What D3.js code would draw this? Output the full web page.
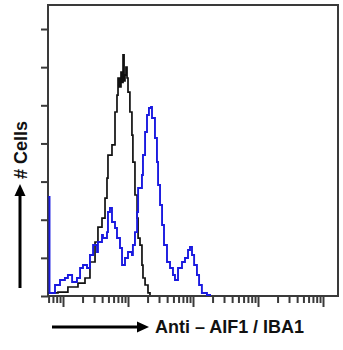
<!DOCTYPE html>
<html>
<head>
<meta charset="utf-8">
<script src="https://cdn.jsdelivr.net/npm/d3@7"></script>
<style>
  html, body { margin: 0; padding: 0; background: #fff; }
  svg { display: block; }
  text { font-family: "Liberation Sans", Arial, sans-serif; font-weight: bold; fill: #111; }
</style>
</head>
<body>
<svg id="chart" width="343" height="350"></svg>
<script>
// Fluorescence intensity (log axis) and cell counts
const isotypeX = [0.594, 0.838, 1.19, 1.70, 2.18, 2.60, 3.11, 3.45, 3.98, 4.43, 4.75, 4.92, 5.67, 6.31, 6.77, 7.02, 7.40, 7.80, 8.10, 8.38, 8.70, 8.99, 9.30, 9.66, 10.0, 10.7, 11.5, 11.9, 12.8, 13.8, 14.3, 15.3, 16.4, 17.0, 18.3, 20.3, 21.8];
const isotypeY = [2.0, 2.6, 5.9, 8.5, 11.8, 22.3, 35.4, 45.2, 51.1, 64.2, 77.3, 92.4, 99.0, 120.6, 131.7, 142.9, 137.0, 146.8, 140.0, 158.0, 141.0, 144.8, 150.0, 142.9, 133.7, 120.6, 105.5, 87.8, 66.2, 51.1, 38.0, 33.4, 20.3, 11.8, 7.2, 2.0, 0.7];

const aifX = [0.594, 0.62, 0.753, 0.899, 1.07, 1.19, 1.38, 1.64, 1.83, 2.03, 2.34, 2.60, 2.90, 3.34, 3.45, 3.98, 4.12, 4.75, 4.92, 5.28, 5.67, 6.31, 6.77, 7.53, 8.09, 8.99, 10.0, 11.5, 11.9, 12.8, 13.8, 14.3, 16.4, 17.0, 18.3, 19.6, 21.0, 22.6, 23.4, 26.0, 27.9, 29.0, 31.1, 33.4, 35.8, 39.8, 44.3, 49.2, 52.8, 58.8, 67.7, 75.3, 83.8, 89.9, 96.5, 104, 115, 124, 137, 164, 183];
const aifY = [64.9, 2.0, 7.2, 10.5, 11.8, 13.8, 9.2, 11.8, 18.4, 20.3, 18.4, 26.9, 33.4, 28.8, 35.4, 40.0, 38.0, 41.9, 55.1, 57.7, 48.5, 44.6, 38.0, 31.5, 20.3, 24.9, 28.8, 26.9, 33.4, 41.9, 55.1, 70.8, 79.3, 92.4, 107.5, 118.6, 123.2, 123.9, 116.7, 103.6, 87.8, 72.8, 59.6, 46.5, 33.4, 22.3, 18.4, 13.8, 10.5, 18.4, 22.3, 24.9, 30.2, 32.1, 26.9, 20.3, 13.8, 7.2, 2.0, 0.7, 0];

const yTicks = [0, 25, 50, 75, 100, 125, 150, 175];
const decades = [-1, 0, 1, 2, 3, 4];
const xLabel = "Anti – AIF1 / IBA1";
const yLabel = "# Cells";

const svg = d3.select("#chart");
const L = 48, R = 338, T = 5, B = 296;

const x = d3.scaleLog().domain([Math.pow(10, -15/65), Math.pow(10, 4 + 15/65)]).range([L, R]);
const y = d3.scaleLinear().domain([0, (B - T) / 38.14 * 25]).range([B, T]);

const minorTicks = [], majorTicks = [];
decades.forEach(d => {
  for (let m = 1; m <= 9; m++) {
    const v = m * Math.pow(10, d);
    if (v >= x.domain()[0] && v <= x.domain()[1]) (m === 1 ? majorTicks : minorTicks).push(v);
  }
});

const axisColor = "#3a3a3a";

// frame
svg.append("rect").attr("x", L).attr("y", T).attr("width", R - L).attr("height", B - T)
  .attr("fill", "none").attr("stroke", axisColor).attr("stroke-width", 2);

// y ticks
const gy = svg.append("g").attr("transform", `translate(${L},0)`)
  .call(d3.axisLeft(y).tickValues(yTicks).tickSize(7).tickFormat(""));
gy.select(".domain").remove();
gy.selectAll("line").attr("stroke", axisColor).attr("stroke-width", 2);

// x ticks
const gxm = svg.append("g").attr("transform", `translate(0,${B})`)
  .call(d3.axisBottom(x).tickValues(minorTicks).tickSize(7).tickFormat(""));
gxm.select(".domain").remove();
gxm.selectAll("line").attr("stroke", axisColor).attr("stroke-width", 2);
const gxM = svg.append("g").attr("transform", `translate(0,${B})`)
  .call(d3.axisBottom(x).tickValues(majorTicks).tickSize(11).tickFormat(""));
gxM.select(".domain").remove();
gxM.selectAll("line").attr("stroke", axisColor).attr("stroke-width", 2);

// histograms
const line = d3.line().x(d => x(d[0])).y(d => y(d[1])).curve(d3.curveStepAfter);
svg.append("path").datum(isotypeX.map((v, i) => [v, isotypeY[i]]))
  .attr("d", line).attr("fill", "none").attr("stroke", "#111").attr("stroke-width", 1.7);
svg.append("path").datum(aifX.map((v, i) => [v, aifY[i]]))
  .attr("d", line).attr("fill", "none").attr("stroke", "#1a1ae0").attr("stroke-width", 1.9);

// x label with arrow
svg.append("line").attr("x1", 52).attr("x2", 140).attr("y1", 327).attr("y2", 327)
  .attr("stroke", "#000").attr("stroke-width", 3);
svg.append("path").attr("d", "M149,327 L137,321.5 L137,332.5 Z").attr("fill", "#000");
svg.append("text").attr("x", 155).attr("y", 333).attr("font-size", 18)
  .attr("textLength", 149).attr("lengthAdjust", "spacingAndGlyphs").text(xLabel);

// y label with arrow
svg.append("line").attr("x1", 20).attr("x2", 20).attr("y1", 288).attr("y2", 194)
  .attr("stroke", "#000").attr("stroke-width", 3);
svg.append("path").attr("d", "M20,184 L14.5,196 L25.5,196 Z").attr("fill", "#000");
svg.append("text").attr("transform", "translate(27,179) rotate(-90)").attr("font-size", 18)
  .text(yLabel);
</script>
</body>
</html>
